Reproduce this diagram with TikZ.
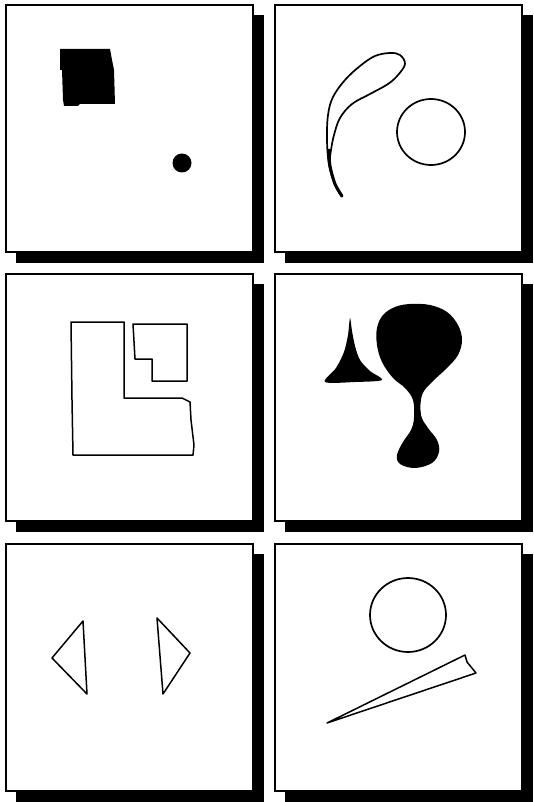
\documentclass[tikz,border=0pt]{standalone}
\usepackage{tikz}

\begin{document}
\begin{tikzpicture}[
    x=1pt, y=-1pt,
    panel/.style={
        draw,
        line width=1.4pt,
        fill=white
    },
    shadow/.style={fill=black},
    blob/.style={fill=black},
    outline/.style={line width=1.5pt, line join=round}
]
\useasboundingbox (0,0) rectangle (533,802);

% six panels, each with a drop shadow
\foreach \px in {6,275}{
    \foreach \py in {5,274,544}{
        \fill[shadow] (\px+10,\py+10) rectangle ++(248,248);
        \draw[panel] (\px,\py) rectangle ++(247,247);
    }
}

% panel 1: square and dot
\fill[blob] (60,49) -- (110,49) -- (112,60) -- (114,70) -- (115,104)
    -- (80,104) -- (78,106) -- (64,106) -- (63,100) -- (62,70) -- (60,70) -- cycle;
\fill[blob] (182,163) circle [radius=9.5pt];

% panel 2: hook and circle
\draw[outline, line width=1.7pt] plot[smooth, tension=0.6] coordinates {
    (342,197) (335,185) (329,165) (327,140) (328,115) (333,97) (345,80)
    (360,66) (375,56) (390,53) (400,55) (405,64) (398,75) (388,84)
    (370,94) (352,104) (340,118) (334,135) (331,150) (329,165)};
\draw[line width=3pt, line cap=round] plot[smooth] coordinates {
    (342,196) (335,184) (330,166) (329,150)};
\draw[outline, line width=1.7pt] (431,132) ellipse [x radius=34pt, y radius=33pt];

% panel 3: L-shape and notched square
\draw[outline] (71,322) -- (124,322) -- (124,398) -- (182,398) -- (190,402)
    -- (191,420) -- (194,445) -- (193,455) -- (73,455) -- (72,400) -- cycle;
\draw[outline] (133,324) -- (187,324) -- (187,381) -- (152,381)
    -- (152,359) -- (135,359) -- cycle;

% panel 4: spike and balloon
\fill[blob] plot[smooth cycle, tension=0.5] coordinates {
    (350,318) (348,335) (344,352) (336,368) (325,382) (355,382) (382,380)
    (370,371) (360,360) (355,346) (352,331)};
\fill[blob] plot[smooth cycle, tension=0.6] coordinates {
    (410,304) (430,305) (447,312) (458,325) (462,340) (458,355) (447,368)
    (432,382) (422,395) (421,415) (428,428) (437,440) (439,452) (432,463)
    (415,468) (400,464) (397,455) (403,442) (411,430) (414,418) (413,400)
    (405,388) (393,378) (382,362) (377,345) (377,328) (383,315) (395,307)};

% panel 5: two triangles
\draw[outline] (83,621) -- (52,658) -- (87,694) -- cycle;
\draw[outline] (157,618) -- (190,653) -- (163,694) -- cycle;

% panel 6: circle and wedge
\draw[outline, line width=1.7pt] (408,615) ellipse [x radius=38pt, y radius=37pt];
\draw[outline] (327,723) -- (465,655) -- (467,662) -- (476,673) -- cycle;

\end{tikzpicture}
\end{document}
